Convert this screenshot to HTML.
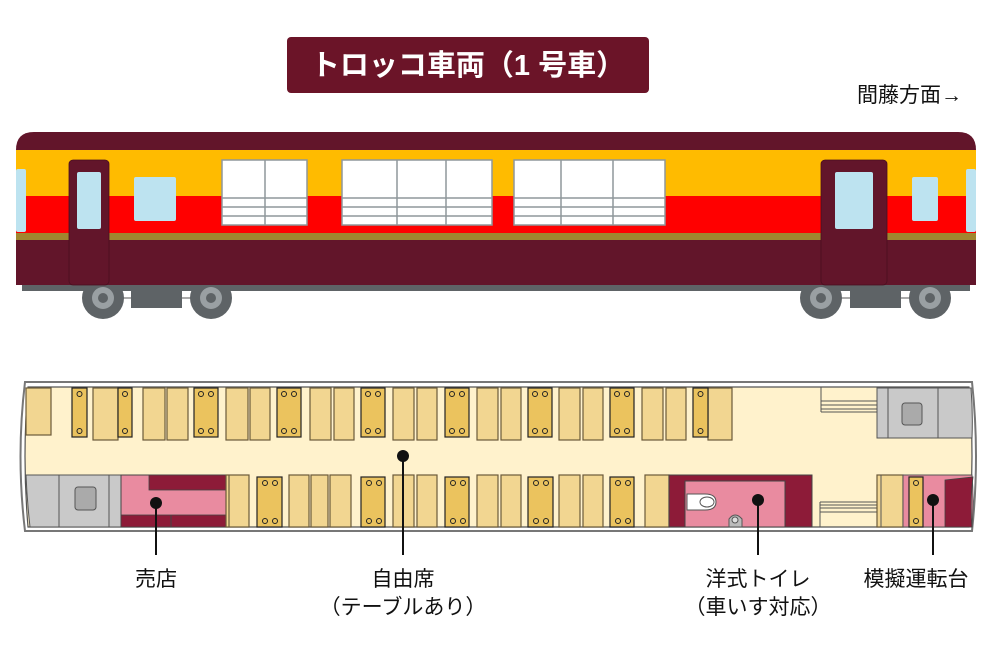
<!DOCTYPE html>
<html><head><meta charset="utf-8"><style>
html,body{margin:0;padding:0;background:#fff;}
svg{display:block;}
text{font-family:"Liberation Sans","Noto Sans CJK JP",sans-serif;}
.s{fill:#F2D691;stroke:#6b5a3a;stroke-width:1.2;}
.t{fill:#EBC35E;stroke:#222;stroke-width:1.2;}
.d{fill:none;stroke:#222;stroke-width:1;}
.lb{font-size:21px;fill:#111;text-anchor:middle;}
</style></head><body>
<svg width="1000" height="667" viewBox="0 0 1000 667" xmlns="http://www.w3.org/2000/svg">
<!-- title -->
<rect x="287" y="37" width="362" height="56" rx="4" fill="#6B1428"/>
<text x="468" y="75" font-size="29" font-weight="bold" fill="#fff" text-anchor="middle">トロッコ車両（1 号車）</text>
<text x="857" y="102" font-size="21" fill="#111" font-family="Noto Sans CJK JP, sans-serif">間藤方面→</text>

<!-- train side -->
<rect x="22" y="285" width="948" height="6" fill="#5E6366"/>
<line x1="103" y1="298" x2="211" y2="298" stroke="#aaa" stroke-width="2"/>
<line x1="821" y1="298" x2="930" y2="298" stroke="#aaa" stroke-width="2"/>
<rect x="131" y="290" width="51" height="18" fill="#5E6366"/>
<rect x="850" y="290" width="51" height="18" fill="#5E6366"/>
<g fill="#5E6366"><circle cx="103" cy="298" r="21"/><circle cx="211" cy="298" r="21"/><circle cx="821" cy="298" r="21"/><circle cx="930" cy="298" r="21"/></g>
<g fill="#9aa0a3"><circle cx="103" cy="298" r="11"/><circle cx="211" cy="298" r="11"/><circle cx="821" cy="298" r="11"/><circle cx="930" cy="298" r="11"/></g>
<g fill="#5E6366"><circle cx="103" cy="298" r="5"/><circle cx="211" cy="298" r="5"/><circle cx="821" cy="298" r="5"/><circle cx="930" cy="298" r="5"/></g>
<path d="M16 285 V150 Q16 132 34 132 H958 Q976 132 976 150 V285 Z" fill="#62152A"/>
<rect x="16" y="150" width="960" height="46" fill="#FFBB00"/>
<rect x="16" y="196" width="960" height="37" fill="#FF0000"/>
<rect x="16" y="233" width="960" height="7" fill="#A0862F"/>
<rect x="69" y="160" width="40" height="125" rx="4" fill="#62152A" stroke="#4a0f1f" stroke-width="0.8"/>
<rect x="77" y="172" width="24" height="57" rx="2" fill="#BDE3F0"/>
<rect x="821" y="160" width="66" height="125" rx="4" fill="#62152A" stroke="#4a0f1f" stroke-width="0.8"/>
<rect x="835" y="172" width="38" height="57" rx="2" fill="#BDE3F0"/>
<rect x="16" y="169" width="10" height="63" rx="2" fill="#BDE3F0"/>
<rect x="134" y="177" width="42" height="44" rx="2" fill="#BDE3F0"/>
<rect x="912" y="177" width="26" height="44" rx="2" fill="#BDE3F0"/>
<rect x="966" y="169" width="10" height="63" rx="2" fill="#BDE3F0"/>
<g fill="#fff" stroke="#8f979b" stroke-width="1.5">
<rect x="222" y="160" width="85" height="65"/>
<rect x="342" y="160" width="150" height="65"/>
<rect x="514" y="160" width="151" height="65"/>
</g>
<g stroke="#8f979b" stroke-width="1.5">
<line x1="265" y1="160" x2="265" y2="225"/><line x1="397" y1="160" x2="397" y2="225"/><line x1="446" y1="160" x2="446" y2="225"/><line x1="561" y1="160" x2="561" y2="225"/><line x1="613" y1="160" x2="613" y2="225"/>
<line x1="222" y1="198" x2="307" y2="198"/><line x1="222" y1="207" x2="307" y2="207"/><line x1="222" y1="216" x2="307" y2="216"/>
<line x1="342" y1="198" x2="492" y2="198"/><line x1="342" y1="207" x2="492" y2="207"/><line x1="342" y1="216" x2="492" y2="216"/>
<line x1="514" y1="198" x2="665" y2="198"/><line x1="514" y1="207" x2="665" y2="207"/><line x1="514" y1="216" x2="665" y2="216"/>
</g>

<!-- plan -->
<path d="M25 382 H972 Q980 456 972 531 H25 Q16 456 25 382 Z" fill="#fff" stroke="#777" stroke-width="2"/>
<path d="M28 387 H969 Q975 456 969 527 H28 Q22 456 28 387 Z" fill="#FFF2CC" stroke="#555" stroke-width="1.2"/>

<!-- top row -->
<rect class="s" x="26" y="388" width="25" height="47"/>
<rect class="s" x="93" y="388" width="25" height="52"/>
<g class="s">
<rect x="143" y="388" width="22" height="52"/><rect x="167" y="388" width="21" height="52"/>
<rect x="226" y="388" width="22" height="52"/><rect x="250" y="388" width="20" height="52"/>
<rect x="310" y="388" width="21" height="52"/><rect x="334" y="388" width="20" height="52"/>
<rect x="393" y="388" width="21" height="52"/><rect x="417" y="388" width="20" height="52"/>
<rect x="477" y="388" width="21" height="52"/><rect x="501" y="388" width="20" height="52"/>
<rect x="559" y="388" width="21" height="52"/><rect x="583" y="388" width="20" height="52"/>
<rect x="642" y="388" width="21" height="52"/><rect x="666" y="388" width="20" height="52"/>
<rect x="708" y="388" width="24" height="52"/>
</g>
<g class="t">
<rect x="72" y="388" width="15" height="49"/><rect x="118" y="388" width="14" height="49"/><rect x="693" y="388" width="15" height="49"/>
<rect x="194" y="388" width="24" height="49"/><rect x="277" y="388" width="24" height="49"/><rect x="361" y="388" width="24" height="49"/>
<rect x="445" y="388" width="24" height="49"/><rect x="528" y="388" width="24" height="49"/><rect x="610" y="388" width="24" height="49"/>
</g>
<g class="d">
<circle cx="79.5" cy="394" r="2.5"/><circle cx="79.5" cy="431" r="2.5"/>
<circle cx="125" cy="394" r="2.5"/><circle cx="125" cy="431" r="2.5"/>
<circle cx="700.5" cy="394" r="2.5"/><circle cx="700.5" cy="431" r="2.5"/>
</g>
<g class="d">
<g id="dt"><circle cx="201" cy="394" r="2.5"/><circle cx="211" cy="394" r="2.5"/><circle cx="201" cy="431" r="2.5"/><circle cx="211" cy="431" r="2.5"/></g>
<use href="#dt" x="83"/><use href="#dt" x="167"/><use href="#dt" x="251"/><use href="#dt" x="334"/><use href="#dt" x="416"/>
</g>

<!-- top right stairs + cab -->
<g stroke="#555" stroke-width="1" fill="none">
<line x1="821" y1="387" x2="821" y2="412"/>
<line x1="821" y1="401" x2="877" y2="401"/><line x1="821" y1="405" x2="877" y2="405"/><line x1="821" y1="409" x2="877" y2="409"/><line x1="821" y1="412" x2="877" y2="412"/>
</g>
<path d="M877 388 H971 Q973 412 972 438 H877 Z" fill="#C9C9C9" stroke="#555" stroke-width="1"/>
<line x1="888" y1="388" x2="888" y2="438" stroke="#555"/><line x1="938" y1="388" x2="938" y2="438" stroke="#555"/>
<rect x="902" y="403" width="20" height="22" rx="3" fill="#aaa" stroke="#555"/>

<!-- bottom left grey -->
<path d="M26 475 H121 V527 H30 Q27 500 26 475 Z" fill="#C9C9C9" stroke="#555" stroke-width="1"/>
<line x1="59" y1="475" x2="59" y2="527" stroke="#555"/><line x1="109" y1="475" x2="109" y2="527" stroke="#555"/>
<rect x="75" y="487" width="21" height="23" rx="3" fill="#aaa" stroke="#555"/>
<!-- shop -->
<rect x="121" y="475" width="105" height="52" fill="#E98BA0" stroke="#444" stroke-width="1"/>
<rect x="149" y="475" width="77" height="15" fill="#8D1B38" stroke="#444" stroke-width="0.8"/>
<rect x="121" y="515" width="105" height="12" fill="#8D1B38" stroke="#444" stroke-width="0.8"/>
<line x1="171" y1="515" x2="171" y2="527" stroke="#444"/>

<!-- bottom row -->
<g class="s">
<rect x="226" y="475" width="23" height="52"/><line x1="229" y1="475" x2="229" y2="527"/>
<rect x="289" y="475" width="20" height="52"/><rect x="311" y="475" width="17" height="52"/><rect x="330" y="475" width="21" height="52"/>
<rect x="393" y="475" width="21" height="52"/><rect x="417" y="475" width="20" height="52"/>
<rect x="477" y="475" width="21" height="52"/><rect x="501" y="475" width="20" height="52"/>
<rect x="559" y="475" width="21" height="52"/><rect x="583" y="475" width="20" height="52"/>
<rect x="645" y="475" width="24" height="52"/>
</g>
<g class="t">
<rect x="257" y="477" width="25" height="50"/><rect x="361" y="477" width="24" height="50"/><rect x="445" y="477" width="24" height="50"/>
<rect x="528" y="477" width="25" height="50"/><rect x="610" y="477" width="24" height="50"/>
</g>
<g class="d">
<g id="db"><circle cx="265" cy="483" r="2.5"/><circle cx="275" cy="483" r="2.5"/><circle cx="265" cy="521" r="2.5"/><circle cx="275" cy="521" r="2.5"/></g>
<use href="#db" x="104"/><use href="#db" x="188"/><use href="#db" x="271"/><use href="#db" x="353"/>
</g>

<!-- toilet -->
<rect x="669" y="475" width="143" height="52" fill="#8D1B38" stroke="#444" stroke-width="1"/>
<rect x="685" y="481" width="100" height="46" fill="#E98BA0" stroke="#444" stroke-width="1"/>
<path d="M687 494 H705 Q716 494 716 502 Q716 510 705 510 H687 Z" fill="#fff" stroke="#555"/>
<ellipse cx="707" cy="502" rx="7" ry="5" fill="#fff" stroke="#555"/>
<path d="M729 527 V519 Q735 511 742 519 V527 Z" fill="#bbb" stroke="#555"/>
<circle cx="735" cy="520" r="3" fill="#ddd" stroke="#555"/>

<!-- bottom stairs -->
<g stroke="#555" stroke-width="1" fill="none">
<line x1="820" y1="502" x2="877" y2="502"/><line x1="820" y1="505" x2="877" y2="505"/><line x1="820" y1="508" x2="877" y2="508"/><line x1="820" y1="512" x2="877" y2="512"/>
<line x1="820" y1="502" x2="820" y2="527"/>
</g>
<!-- cab -->
<rect x="877" y="475" width="93" height="52" fill="#FFF2CC" stroke="#555" stroke-width="1"/>
<rect x="877" y="475" width="26" height="52" class="s"/><line x1="881" y1="475" x2="881" y2="527" stroke="#555"/>
<path d="M903 475 H972 Q974 500 972 527 H903 Z" fill="#E98BA0" stroke="#555"/>
<rect class="t" x="909" y="477" width="14" height="50"/>
<circle class="d" cx="916" cy="483" r="2.5"/><circle class="d" cx="916" cy="521" r="2.5"/>
<path d="M945 480 L973 477 Q970 500 972 527 H945 Z" fill="#8D1B38" stroke="#444" stroke-width="0.8"/>

<!-- leaders -->
<g stroke="#111" stroke-width="2">
<line x1="156" y1="503" x2="156" y2="555"/>
<line x1="403" y1="456" x2="403" y2="555"/>
<line x1="758" y1="500" x2="758" y2="555"/>
<line x1="933" y1="500" x2="933" y2="555"/>
</g>
<g fill="#111">
<circle cx="156" cy="503" r="6"/><circle cx="403" cy="456" r="6"/><circle cx="758" cy="500" r="6"/><circle cx="933" cy="500" r="6"/>
</g>
<text class="lb" x="156" y="586">売店</text>
<text class="lb" x="403" y="586">自由席</text>
<text class="lb" x="403" y="614">（テーブルあり）</text>
<text class="lb" x="758" y="586">洋式トイレ</text>
<text class="lb" x="758" y="614">（車いす対応）</text>
<text class="lb" x="916" y="586">模擬運転台</text>
</svg>
</body></html>
